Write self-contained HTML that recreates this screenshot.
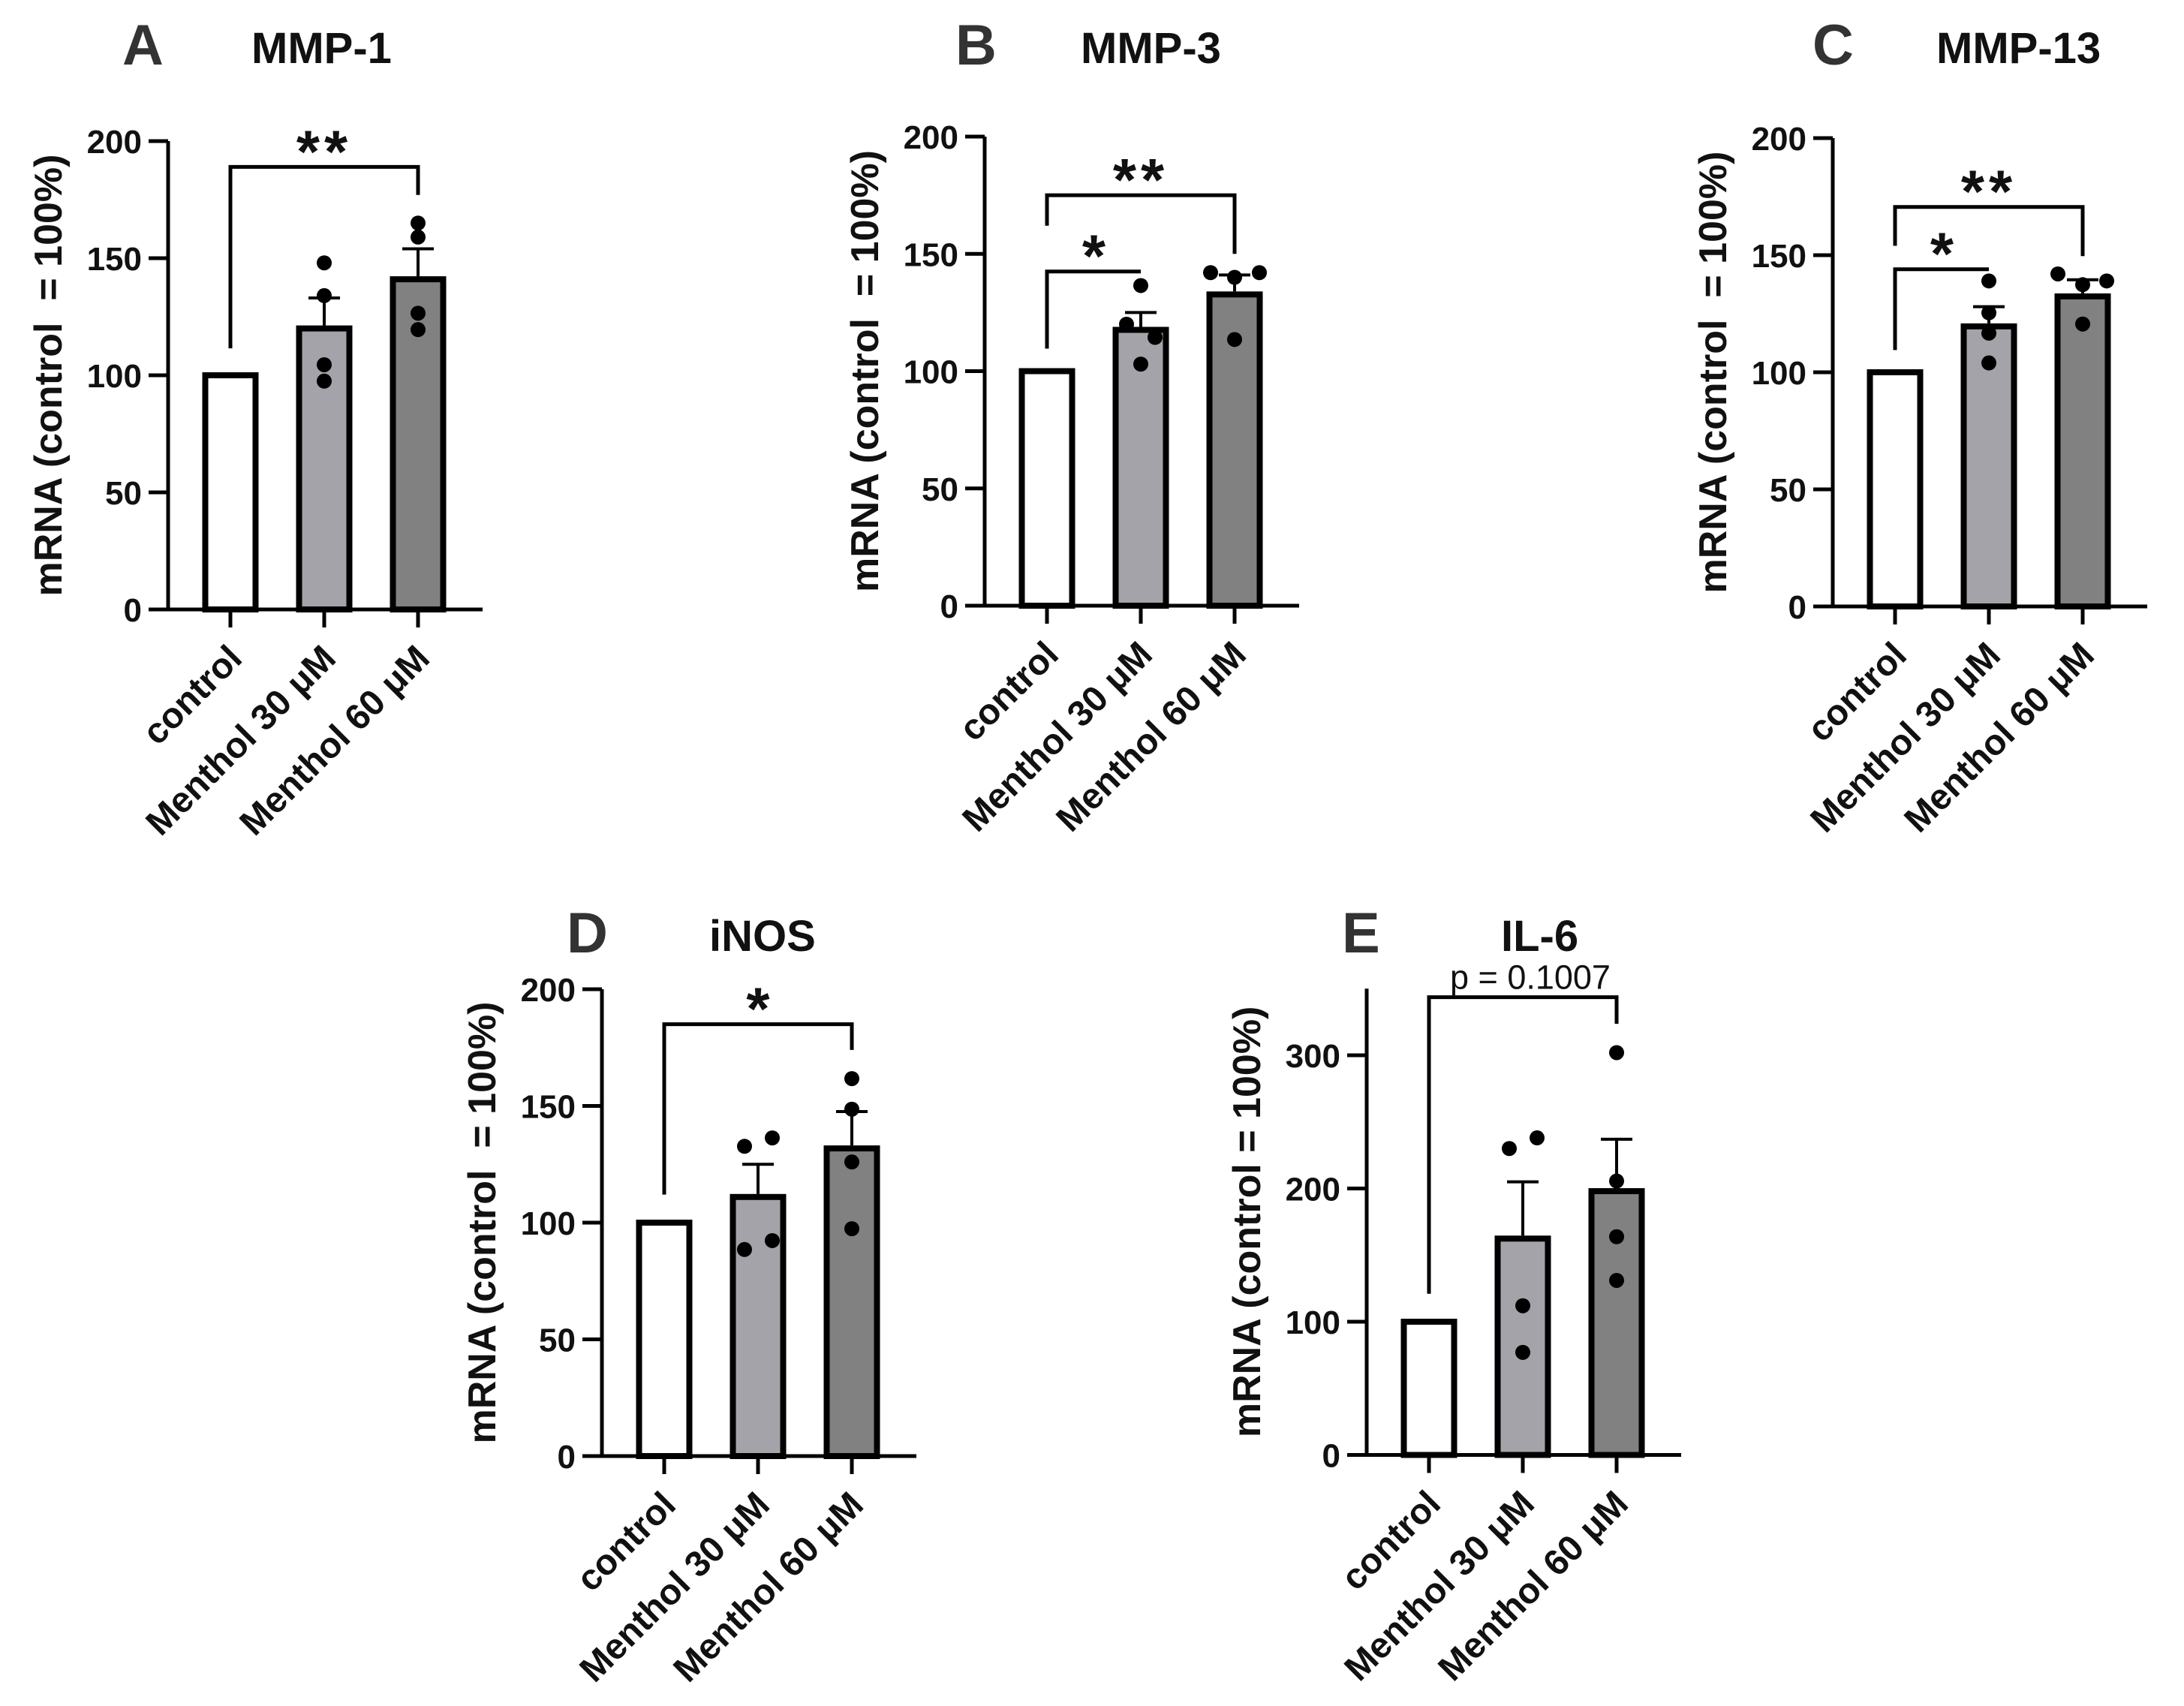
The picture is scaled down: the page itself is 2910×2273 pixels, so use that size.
<!DOCTYPE html>
<html><head><meta charset="utf-8"><style>
html,body{margin:0;padding:0;background:#fff}
svg{display:block}
text{font-family:"Liberation Sans",Arial,sans-serif}
.pre{white-space:pre}
</style></head><body>
<svg id="fig" xmlns="http://www.w3.org/2000/svg" width="2910" height="2273" viewBox="0 0 2910 2273"></svg>
<script>
// ---- data ----
const categories = ["control", "Menthol 30 μM", "Menthol 60 μM"];
const mmp1Mean = [100, 120, 141];
const mmp1Sem = [0, 13, 13];
const mmp1Pts30 = [148, 134, 104.5, 97.5];
const mmp1Pts60 = [165, 159, 126.5, 119.5];
const mmp3Mean = [100, 117.6, 132.7];
const mmp3Sem = [0, 7.4, 8.3];
const mmp3Pts30 = [136.5, 120, 114.4, 103];
const mmp3Pts60 = [142, 140, 142, 113.5];
const mmp13Mean = [100, 119.6, 132.4];
const mmp13Sem = [0, 8.4, 7.1];
const mmp13Pts30 = [139, 125.4, 116.7, 104];
const mmp13Pts60 = [142, 137.4, 139, 120.6];
const inosMean = [100, 111, 131.8];
const inosSem = [0, 14, 15.8];
const inosPts30 = [132.7, 136.3, 88.5, 92.3];
const inosPts60 = [161.7, 148.6, 126, 97.4];
const il6Mean = [100, 162.4, 198];
const il6Sem = [0, 42.6, 39];
const il6Pts30 = [230, 238, 112, 77];
const il6Pts60 = [302, 205.6, 163.8, 131];
const ticks200 = [0, 50, 100, 150, 200];
const ticks300 = [0, 100, 200, 300];
// brackets: [from, to, level, leftEnd, rightEnd, label]
const mmp1Brackets = [[0, 2, 189, 111.5, 177, "**"]];
const mmp3Brackets = [[0, 1, 142.5, 109.6, 142.5, "*"], [0, 2, 175, 162, 150, "**"]];
const mmp13Brackets = [[0, 1, 144, 109.5, 144, "*"], [0, 2, 170.6, 154, 149.6, "**"]];
const inosBrackets = [[0, 2, 185, 112, 174, "*"]];
const il6Brackets = [[0, 2, 343.6, 121, 323.6, "p = 0.1007"]];

// ---- layout ----
const panels = [
  {id:"a", letter:"A", title:"MMP-1", ax:224, y0:812, yTopPx:188, vTop:200, vmax:200, ticks:ticks200, mean:mmp1Mean, sem:mmp1Sem, p30:mmp1Pts30, p60:mmp1Pts60, j30:[0,0,0,0], j60:[0,0,0,0], br:mmp1Brackets, lx:163, tx:335, ty:86, ytitle:"mRNA (control  = 100%)"},
  {id:"b", letter:"B", title:"MMP-3", ax:1312, y0:807, yTopPx:182, vTop:200, vmax:200, ticks:ticks200, mean:mmp3Mean, sem:mmp3Sem, p30:mmp3Pts30, p60:mmp3Pts60, j30:[0,-19,19,0], j60:[-32,0,33,0], br:mmp3Brackets, lx:1273, tx:1440, ty:86, ytitle:"mRNA (control  = 100%)"},
  {id:"c", letter:"C", title:"MMP-13", ax:2442, y0:808, yTopPx:184, vTop:200, vmax:200, ticks:ticks200, mean:mmp13Mean, sem:mmp13Sem, p30:mmp13Pts30, p60:mmp13Pts60, j30:[0,0,0,0], j60:[-33,0,32,0], br:mmp13Brackets, lx:2415, tx:2580, ty:86, ytitle:"mRNA (control  = 100%)"},
  {id:"d", letter:"D", title:"iNOS", ax:802, y0:1940, yTopPx:1318, vTop:200, vmax:200, ticks:ticks200, mean:inosMean, sem:inosSem, p30:inosPts30, p60:inosPts60, j30:[-18,19,-18,19], j60:[0,0,0,0], br:inosBrackets, lx:755, tx:945, ty:1269, ytitle:"mRNA (control  = 100%)"},
  {id:"e", letter:"E", title:"IL-6", ax:1821, y0:1938.5, yTopPx:1406, vTop:300, vmax:350, ticks:ticks300, mean:il6Mean, sem:il6Sem, p30:il6Pts30, p60:il6Pts60, j30:[-18,19,0,0], j60:[0,0,0,0], br:il6Brackets, lx:1788, tx:2000, ty:1269, ytitle:"mRNA (control = 100%)"}
];
const fills = ["#ffffff", "#a3a3a9", "#818181"];
const NS = "http://www.w3.org/2000/svg";
const svg = document.getElementById("fig");
function el(tag, attrs, parent, txt) {
  const e = document.createElementNS(NS, tag);
  for (const k in attrs) e.setAttribute(k, attrs[k]);
  if (txt !== undefined) e.textContent = txt;
  parent.appendChild(e);
  return e;
}
panels.forEach(p => {
  const g = el("g", {}, svg);
  
  
  const pxPerUnit = (p.y0 - p.yTopPx) / p.vTop;
  const y = v => p.y0 - v * pxPerUnit;
  const x = i => p.ax + 83 + 125 * i;
  const axisTop = y(p.vmax);
  const xEnd = x(2) + 86;

  const L = el("text", {x:p.lx, y:p.ty, "font-size":76, "font-weight":"bold", fill:"#333"}, g, p.letter);
  
  
  const T = el("text", {x:p.tx, y:p.ty - 2, "font-size":58, "font-weight":"bold", fill:"#111"}, g, p.title);
  
  

  // y title
  const cy = (axisTop + p.y0) / 2;
  const yx = p.ax - 142;
  const yt = el("text", {x:yx, y:cy, "font-size":52, "font-weight":"bold", "text-anchor":"middle", "class":"pre", transform:`rotate(-90 ${yx} ${cy})`, fill:"#111"}, g, p.ytitle);
  
  

  // axes
  const ya = el("line", {x1:p.ax, y1:axisTop, x2:p.ax, y2:p.y0 + 2.5, stroke:"#000", "stroke-width":5}, g);
  
  
  const xa = el("line", {x1:p.ax - 2.5, y1:p.y0, x2:xEnd, y2:p.y0, stroke:"#000", "stroke-width":5}, g);
  
  
  p.ticks.forEach(t => {
    const tl = el("line", {x1:p.ax - 26, y1:y(t), x2:p.ax, y2:y(t), stroke:"#000", "stroke-width":5}, g);
    
    
    const tt = el("text", {x:p.ax - 35, y:y(t) + 16, "font-size":44, "font-weight":"bold", "text-anchor":"end", fill:"#111"}, g, String(t));
    
    
  });

  // bars
  categories.forEach((c, i) => {
    const cx = x(i);
    const top = y(p.mean[i]);
    const r = el("rect", {x:cx - 33.5, y:top, width:67, height:p.y0 - top, fill:fills[i], stroke:"#000", "stroke-width":8}, g);
    
    
    if (p.sem[i] > 0) {
      const eTop = y(p.mean[i] + p.sem[i]);
      const e1 = el("line", {x1:cx, y1:top - 4, x2:cx, y2:eTop, stroke:"#000", "stroke-width":4}, g);
      
      
      const e2 = el("line", {x1:cx - 21, y1:eTop, x2:cx + 21, y2:eTop, stroke:"#000", "stroke-width":4}, g);
      
      
    }
    const xt = el("line", {x1:cx, y1:p.y0, x2:cx, y2:p.y0 + 24, stroke:"#000", "stroke-width":5}, g);
    
    
    const ax = cx + 18, ay = p.y0 + 68;
    const lab = el("text", {x:ax, y:ay, "font-size":48, "font-weight":"bold", "text-anchor":"end", transform:`rotate(-45 ${ax} ${ay})`, fill:"#111"}, g, c);
    
    
  });

  // points
  [[p.p30, p.j30, 1], [p.p60, p.j60, 2]].forEach(([pts, jit, i]) => {
    pts.forEach((v, k) => {
      const d = el("circle", {cx:x(i) + jit[k], cy:y(v), r:10, fill:"#000"}, g);
      
      
    });
  });

  // brackets
  p.br.forEach(b => {
    const [f, t, lvl, le, re, label] = b;
    const by = y(lvl), x1 = x(f), x2 = x(t);
    const path = el("path", {d:`M${x1} ${y(le)} L${x1} ${by} L${x2} ${by} L${x2} ${y(re)}`, fill:"none", stroke:"#000", "stroke-width":5}, g);
    
    
    let lt;
    if (label.startsWith("p")) {
      lt = el("text", {x:(x1 + x2) / 2 + 10, y:by - 11, "font-size":45, "text-anchor":"middle", fill:"#111"}, g, label);
    } else {
      lt = el("text", {x:(x1 + x2) / 2, y:by + 7, "font-size":80, "font-weight":"bold", "text-anchor":"middle", "letter-spacing":label.length > 1 ? 6 : 0, fill:"#111"}, g, label);
    }
    
    
  });
});
</script>
</body></html>
